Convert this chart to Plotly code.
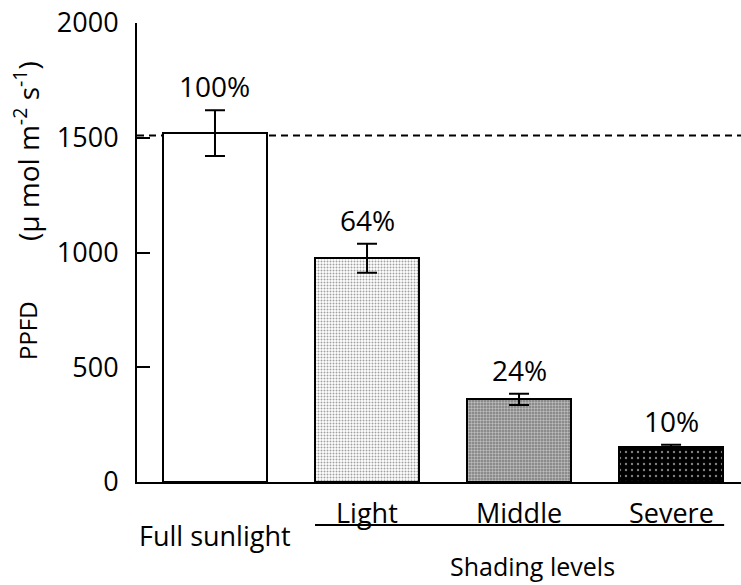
import plotly.graph_objects as go

# ---- data ----
categories = ["Full sunlight", "Light", "Middle", "Severe"]
ppfd = [1520, 975, 360, 152]
ppfd_err = [100, 63, 25, 10]
percent_labels = ["100%", "64%", "24%", "10%"]
reference_level = 1510
y_ticks = [0, 500, 1000, 1500, 2000]
shading_title = "Shading levels"

FONT = "Open Sans"
W, H = 741, 585
ML, MR, MT, MB = 137, 0, 23, 103
PH = H - MT - MB  # plot height in px

x = list(range(len(categories)))

fig = go.Figure()
fig.add_trace(go.Bar(
    x=x, y=ppfd, width=0.684,
    marker=dict(
        color=["#ffffff", "#ffffff", "#7a7a7a", "#000000"],
        line=dict(color="black", width=2),
        pattern=dict(
            shape=["", ".", ".", "."],
            fgcolor=["#000000", "#000000", "#000000", "#ffffff"],
            bgcolor=["#ffffff", "#ffffff", "#7a7a7a", "#000000"],
            size=[4, 3, 3, 6],
            solidity=[0.2, 0.35, 0.5, 0.12],
            fillmode="overlay",
        ),
    ),
    error_y=dict(type="data", array=ppfd_err, visible=True,
                 color="black", thickness=2, width=10),
    showlegend=False,
))

# dashed reference line at full-sunlight level
fig.add_shape(type="line", xref="paper", x0=0, x1=1, yref="y",
              y0=reference_level, y1=reference_level,
              line=dict(color="black", width=2, dash="7px,5px"), layer="below")

# percentage labels above error bars
for xi, v, e, t in zip(x, ppfd, ppfd_err, percent_labels):
    fig.add_annotation(x=xi, y=v + e, text=t, showarrow=False,
                       yanchor="middle", yshift=24,
                       font=dict(family=FONT, size=28, color="black"))

def py(px_y):
    """pixel y (from top) to paper y"""
    return (H - MB - px_y) / PH

# category labels below axis
fig.add_annotation(x=x[0], y=py(535), xref="x", yref="paper", text=categories[0],
                   showarrow=False, yanchor="middle",
                   font=dict(family=FONT, size=27, color="black"))
for xi, t in zip(x[1:], categories[1:]):
    fig.add_annotation(x=xi, y=py(512), xref="x", yref="paper", text=t,
                       showarrow=False, yanchor="middle",
                       font=dict(family=FONT, size=27, color="black"))
# underline for shading levels group
fig.add_shape(type="line", xref="x", x0=0.658, x1=3.349, yref="paper",
              y0=py(525), y1=py(525), line=dict(color="black", width=2))
fig.add_annotation(x=2.09, y=py(566), xref="x", yref="paper", text=shading_title,
                   showarrow=False, yanchor="middle",
                   font=dict(family=FONT, size=25, color="black"))

# y-axis title (two pieces)
fig.add_annotation(xref="paper", x=0, xshift=27 - ML, y=py(331), yref="paper",
                   text="PPFD", textangle=-90, showarrow=False,
                   xanchor="center", yanchor="middle",
                   font=dict(family=FONT, size=24, color="black"))
fig.add_annotation(xref="paper", x=0, xshift=26 - ML, y=py(151), yref="paper",
                   text="(\u03bc mol m<sup>-2</sup> s<sup>-1</sup>)", textangle=-90,
                   showarrow=False, xanchor="center", yanchor="middle",
                   font=dict(family=FONT, size=28, color="black"))

fig.update_layout(
    width=W, height=H,
    margin=dict(l=ML, r=MR, t=MT, b=MB, pad=0),
    paper_bgcolor="white", plot_bgcolor="white",
    xaxis=dict(range=[-0.513, 3.46], showticklabels=False, ticks="",
               showgrid=False, zeroline=False, showline=True,
               linecolor="black", linewidth=2),
    yaxis=dict(range=[0, 2000], tickvals=y_ticks, ticks="inside", ticklen=13,
               tickwidth=2, tickcolor="black", showgrid=False, zeroline=False,
               showline=True, linecolor="black", linewidth=2,
               ticklabelstandoff=11,
               tickfont=dict(family=FONT, size=27, color="black")),
    bargap=0,
)

fig.write_html("out.html")
